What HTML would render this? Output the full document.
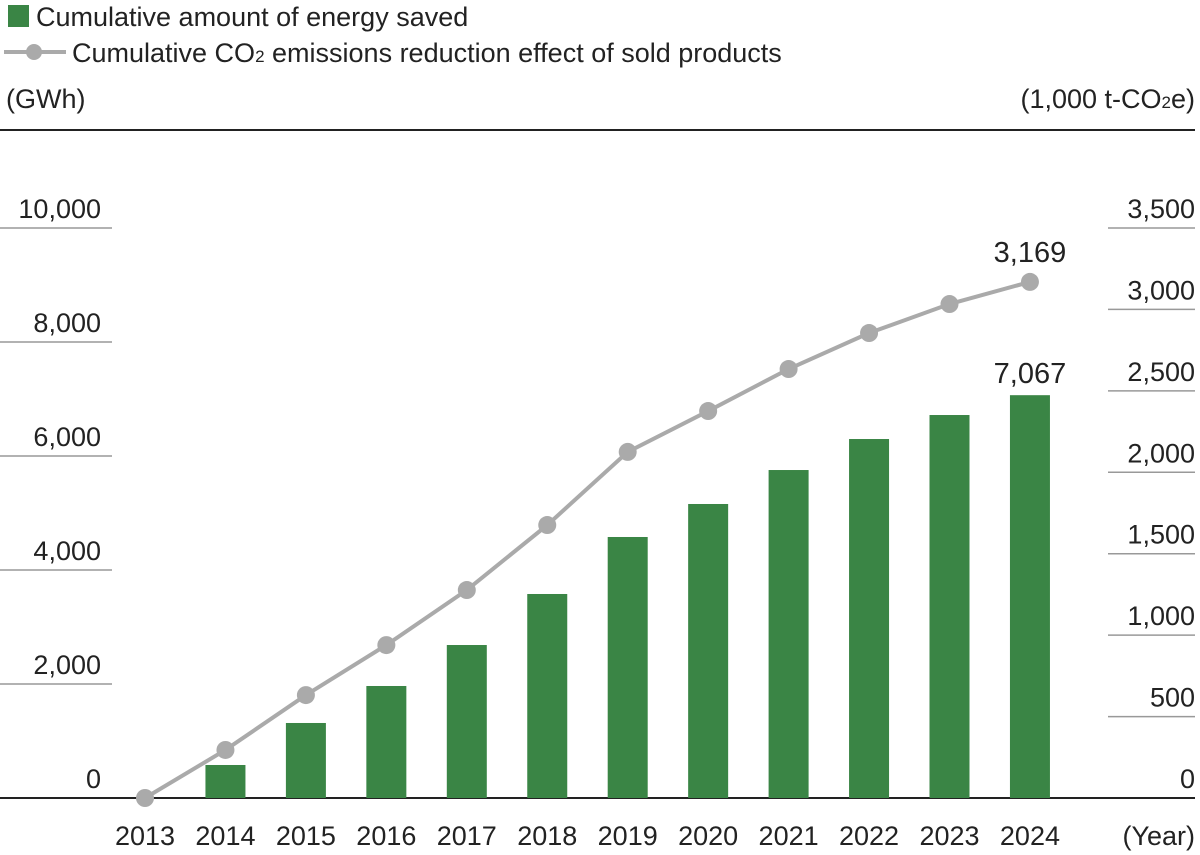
<!DOCTYPE html>
<html><head><meta charset="utf-8"><style>
html,body{margin:0;padding:0;background:#fff;}
svg{display:block;font-family:"Liberation Sans",sans-serif;}
</style></head><body>
<svg id="chart" width="1200" height="855" viewBox="0 0 1200 855">
  <g>
    <rect x="8" y="5" width="21" height="22" fill="#3a8545"/>
    <text x="36" y="26" font-size="27" fill="#222">Cumulative amount of energy saved</text>
    <line x1="4" y1="52" x2="66" y2="52" stroke="#aaa" stroke-width="4"/>
    <circle cx="34" cy="52" r="8" fill="#aaa"/>
    <text x="72" y="62" font-size="27" fill="#222">Cumulative CO<tspan font-size="17">2</tspan> emissions reduction effect of sold products</text>
  </g>
  <text x="6" y="108" font-size="27" fill="#222">(GWh)</text>
  <text x="1195" y="108" font-size="27" fill="#222" text-anchor="end">(1,000 t-CO<tspan font-size="17">2</tspan>e)</text>
  <line x1="0" y1="130" x2="1195" y2="130" stroke="#222" stroke-width="2"/>
  <g id="axes"></g>
  <g id="bars"></g>
  <g id="line"></g>
  <text x="1195" y="845" font-size="27" fill="#222" text-anchor="end">(Year)</text>
</svg>
<script>
const years = ["2013","2014","2015","2016","2017","2018","2019","2020","2021","2022","2023","2024"];
const energySaved = [0,579,1316,1965,2684,3579,4579,5158,5754,6298,6719,7067];
const co2Reduction = [0,295,632,939,1277,1676,2125,2376,2634,2855,3033,3169];
const leftTicks = [0,2000,4000,6000,8000,10000];
const rightTicks = [0,500,1000,1500,2000,2500,3000,3500];

const NS="http://www.w3.org/2000/svg";
const y0=798, yTop=228;
const yL=v=>y0-(v/10000)*(y0-yTop);
const yR=v=>y0-(v/3500)*(y0-yTop);
const x=i=>145+i*80.45;
function mk(tag,attrs,parent){const e=document.createElementNS(NS,tag);for(const k in attrs)e.setAttribute(k,attrs[k]);parent.appendChild(e);return e;}
const fmt=v=>v.toLocaleString("en-US");
const axes=document.getElementById("axes");
leftTicks.forEach(v=>{
  const y=yL(v);
  if(v>0){const l=mk("line",{x1:0,y1:y,x2:112,y2:y,stroke:"#999","stroke-width":1.5},axes);
  
  }
  const t=mk("text",{x:101,y:y-10,"font-size":27,fill:"#222","text-anchor":"end"},axes);
  t.textContent=fmt(v);
  
  
});
rightTicks.forEach(v=>{
  const y=yR(v);
  if(v>0){const l=mk("line",{x1:1108,y1:y,x2:1195,y2:y,stroke:"#999","stroke-width":1.5},axes);
  
  }
  const t=mk("text",{x:1195,y:y-10,"font-size":27,fill:"#222","text-anchor":"end"},axes);
  t.textContent=fmt(v);
  
  
});
const base=mk("line",{x1:0,y1:y0,x2:1195,y2:y0,stroke:"#222","stroke-width":2},axes);


years.forEach((yr,i)=>{
  const t=mk("text",{x:x(i),y:845,"font-size":27,fill:"#222","text-anchor":"middle"},axes);
  t.textContent=yr;
  
  
});
const bars=document.getElementById("bars");
energySaved.forEach((v,i)=>{
  if(v<=0)return;
  const r=mk("rect",{x:x(i)-20,y:yL(v),width:40,height:y0-yL(v),fill:"#3a8545"},bars);
  
  
});
const li=energySaved.length-1;
const bl=mk("text",{x:x(li),y:yL(energySaved[li])-12,"font-size":29,fill:"#222","text-anchor":"middle"},bars);
bl.textContent=fmt(energySaved[li]);


const lg=document.getElementById("line");
const pl=mk("polyline",{points:co2Reduction.map((v,i)=>x(i)+","+yR(v)).join(" "),fill:"none",stroke:"#aaa","stroke-width":4},lg);


co2Reduction.forEach((v,i)=>{
  const c=mk("circle",{cx:x(i),cy:yR(v),r:9,fill:"#aaa"},lg);
  
  
});
const cl=mk("text",{x:x(li),y:yR(co2Reduction[li])-20,"font-size":29,fill:"#222","text-anchor":"middle"},lg);
cl.textContent=fmt(co2Reduction[li]);


</script>
</body></html>
